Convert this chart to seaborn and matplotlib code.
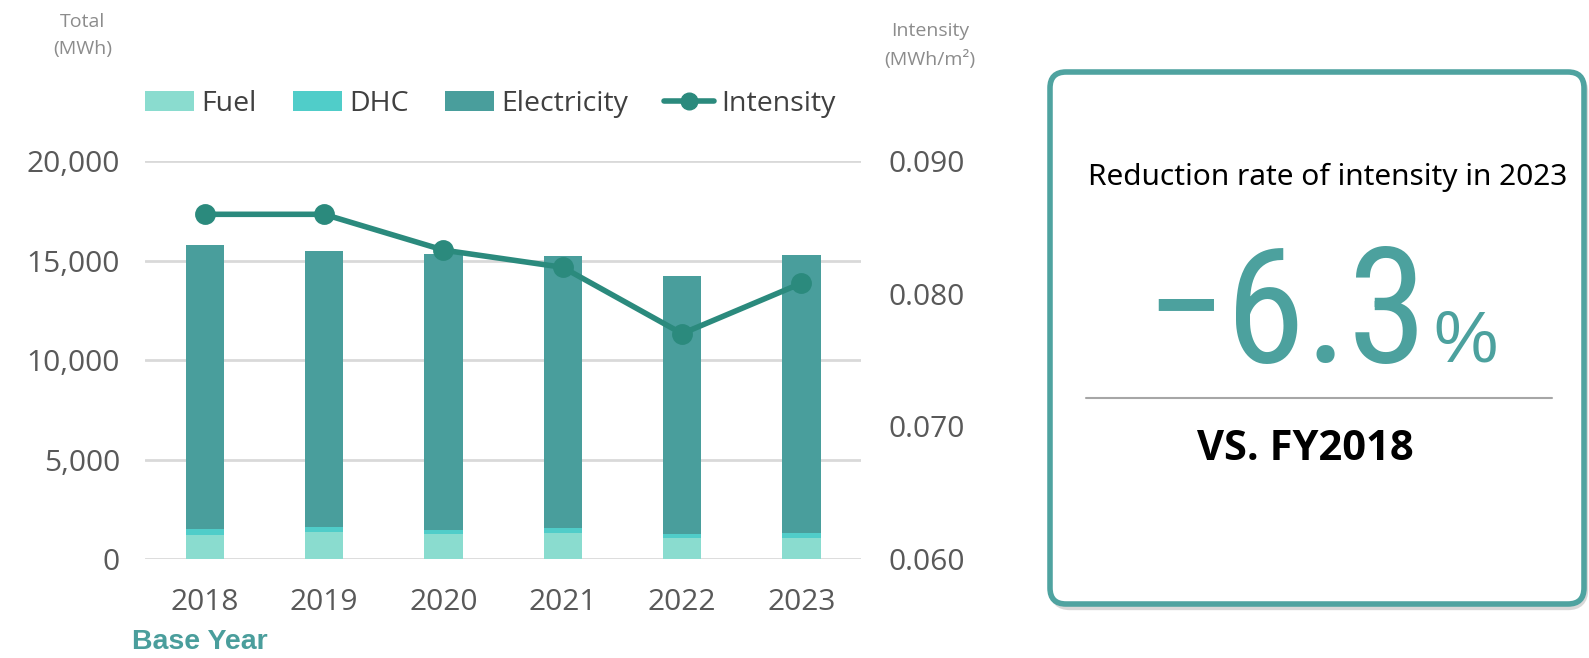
import matplotlib
matplotlib.use("Agg")
import matplotlib.pyplot as plt
import seaborn as sns
import pandas as pd
from matplotlib.patches import Patch, FancyBboxPatch
from matplotlib.lines import Line2D

years = ["2018", "2019", "2020", "2021", "2022", "2023"]
fuel = [1220, 1360, 1260, 1325, 1070, 1070]
dhc = [305, 250, 215, 235, 205, 255]
electricity = [14255, 13900, 13850, 13665, 12975, 13965]
intensity = [0.0860, 0.0860, 0.0833, 0.0820, 0.0770, 0.0808]
left_ticks = [0, 5000, 10000, 15000, 20000]
right_ticks = [0.060, 0.070, 0.080, 0.090]

c_fuel = "#8ADCCF"
c_dhc = "#50CDC9"
c_elec = "#499E9C"
c_line = "#2B8A7D"
c_text = "#595959"

sns.set_theme(style="white")
plt.rcParams["font.family"] = ["Open Sans", "DejaVu Sans"]

df = pd.DataFrame({"year": years, "fuel": fuel, "dhc": dhc, "elec": electricity,
                   "intensity": intensity})
df["lvl1"] = df["fuel"]
df["lvl2"] = df["fuel"] + df["dhc"]
df["lvl3"] = df["lvl2"] + df["elec"]

fig = plt.figure(figsize=(15.89, 6.58), dpi=100)
ax = fig.add_axes([0.0913, 0.1505, 0.4506, 0.6044])

for col, colr in [("lvl3", c_elec), ("lvl2", c_dhc), ("lvl1", c_fuel)]:
    sns.barplot(data=df, x="year", y=col, color=colr, width=0.32, ax=ax,
                saturation=1, edgecolor="none", linewidth=0, zorder=3)

ax.set_ylim(0, 20000)
ax.set_xlim(-0.5, 5.5)
ax.set_yticks(left_ticks)
ax.set_yticklabels([f"{v:,}" for v in left_ticks])
ax.yaxis.grid(True, color="#D9D9D9", linewidth=2)
ax.set_axisbelow(True)
for s in ax.spines.values():
    s.set_visible(False)
ax.set_xlabel("")
ax.set_ylabel("")
ax.tick_params(axis="both", length=0, labelsize=21.5, colors=c_text)
ax.tick_params(axis="x", pad=21)
ax.tick_params(axis="y", pad=18)

ax2 = ax.twinx()
sns.pointplot(data=df, x="year", y="intensity", color=c_line, ax=ax2,
              markers="o", markersize=12, linewidth=4, zorder=5)
ax2.set_ylim(0.060, 0.090)
ax2.set_xlim(-0.5, 5.5)
ax2.set_yticks(right_ticks)
ax2.set_yticklabels([f"{v:.3f}" for v in right_ticks])
for s in ax2.spines.values():
    s.set_visible(False)
ax2.set_ylabel("")
ax2.set_xlabel("")
ax2.tick_params(axis="y", length=0, labelsize=21.5, colors=c_text, pad=20)
ax2.grid(False)

lab_kw = dict(ha="center", va="center", fontsize=14, color="#8C8C8C")
fig.text(83 / 1589, 1 - 22 / 658, "Total", **lab_kw)
fig.text(83 / 1589, 1 - 49 / 658, "(MWh)", **lab_kw)
fig.text(930 / 1589, 1 - 31 / 658, "Intensity", **lab_kw)
fig.text(930 / 1589, 1 - 59 / 658, "(MWh/m²)", **lab_kw)

fig.text(132 / 1589, 1 - 642 / 658, "Base Year", ha="left", va="center", fontsize=20.5,
         fontweight="bold", color="#4A9E9C", family=["Liberation Sans", "DejaVu Sans"])

handles = [Patch(facecolor=c_fuel, edgecolor="none", label="Fuel"),
           Patch(facecolor=c_dhc, edgecolor="none", label="DHC"),
           Patch(facecolor=c_elec, edgecolor="none", label="Electricity"),
           Line2D([0], [0], color=c_line, lw=4, marker="o", markersize=12, label="Intensity")]
leg = fig.legend(handles=handles, loc="center", bbox_to_anchor=(490 / 1589, 1 - 104 / 658),
                 ncol=4, frameon=False, fontsize=20.5, handlelength=1.75, handleheight=0.7,
                 handletextpad=0.25, columnspacing=1.25)
for t in leg.get_texts():
    t.set_color("#404040")

# right panel
ax3 = fig.add_axes([0, 0, 1, 1], facecolor="none")
ax3.set_xlim(0, 1589)
ax3.set_ylim(658, 0)
ax3.axis("off")
shadow = FancyBboxPatch((1054, 76), 1584 - 1054, 606 - 76,
                        boxstyle="round,pad=0,rounding_size=16",
                        facecolor="none", edgecolor="#C8C8C8", linewidth=6, alpha=0.7)
ax3.add_patch(shadow)
box = FancyBboxPatch((1050, 72), 1584 - 1050, 604 - 72,
                     boxstyle="round,pad=0,rounding_size=16",
                     facecolor="white", edgecolor="#4FA3A0", linewidth=4)
ax3.add_patch(box)
ax3.text(1328, 177, "Reduction rate of intensity in 2023", ha="center", va="center",
         fontsize=21.5, color="black", family=["Noto Sans", "DejaVu Sans"])
ax3.text(1428, 362, "−6.3", ha="right", va="baseline", fontsize=116, color="#4CA19E",
         family=["Liberation Sans Narrow", "Roboto Condensed", "Liberation Sans", "DejaVu Sans"])
ax3.text(1433, 362, "%", ha="left", va="baseline", fontsize=52, color="#4CA19E",
         family=["Liberation Sans", "DejaVu Sans"])
ax3.plot([1086, 1552], [398, 398], color="#A6A6A6", lw=1.5)
ax3.text(1305, 449, "VS. FY2018", ha="center", va="center", fontsize=30, fontweight="bold",
         color="black", family=["Open Sans", "DejaVu Sans"])

fig.savefig("out.png", dpi=100)
